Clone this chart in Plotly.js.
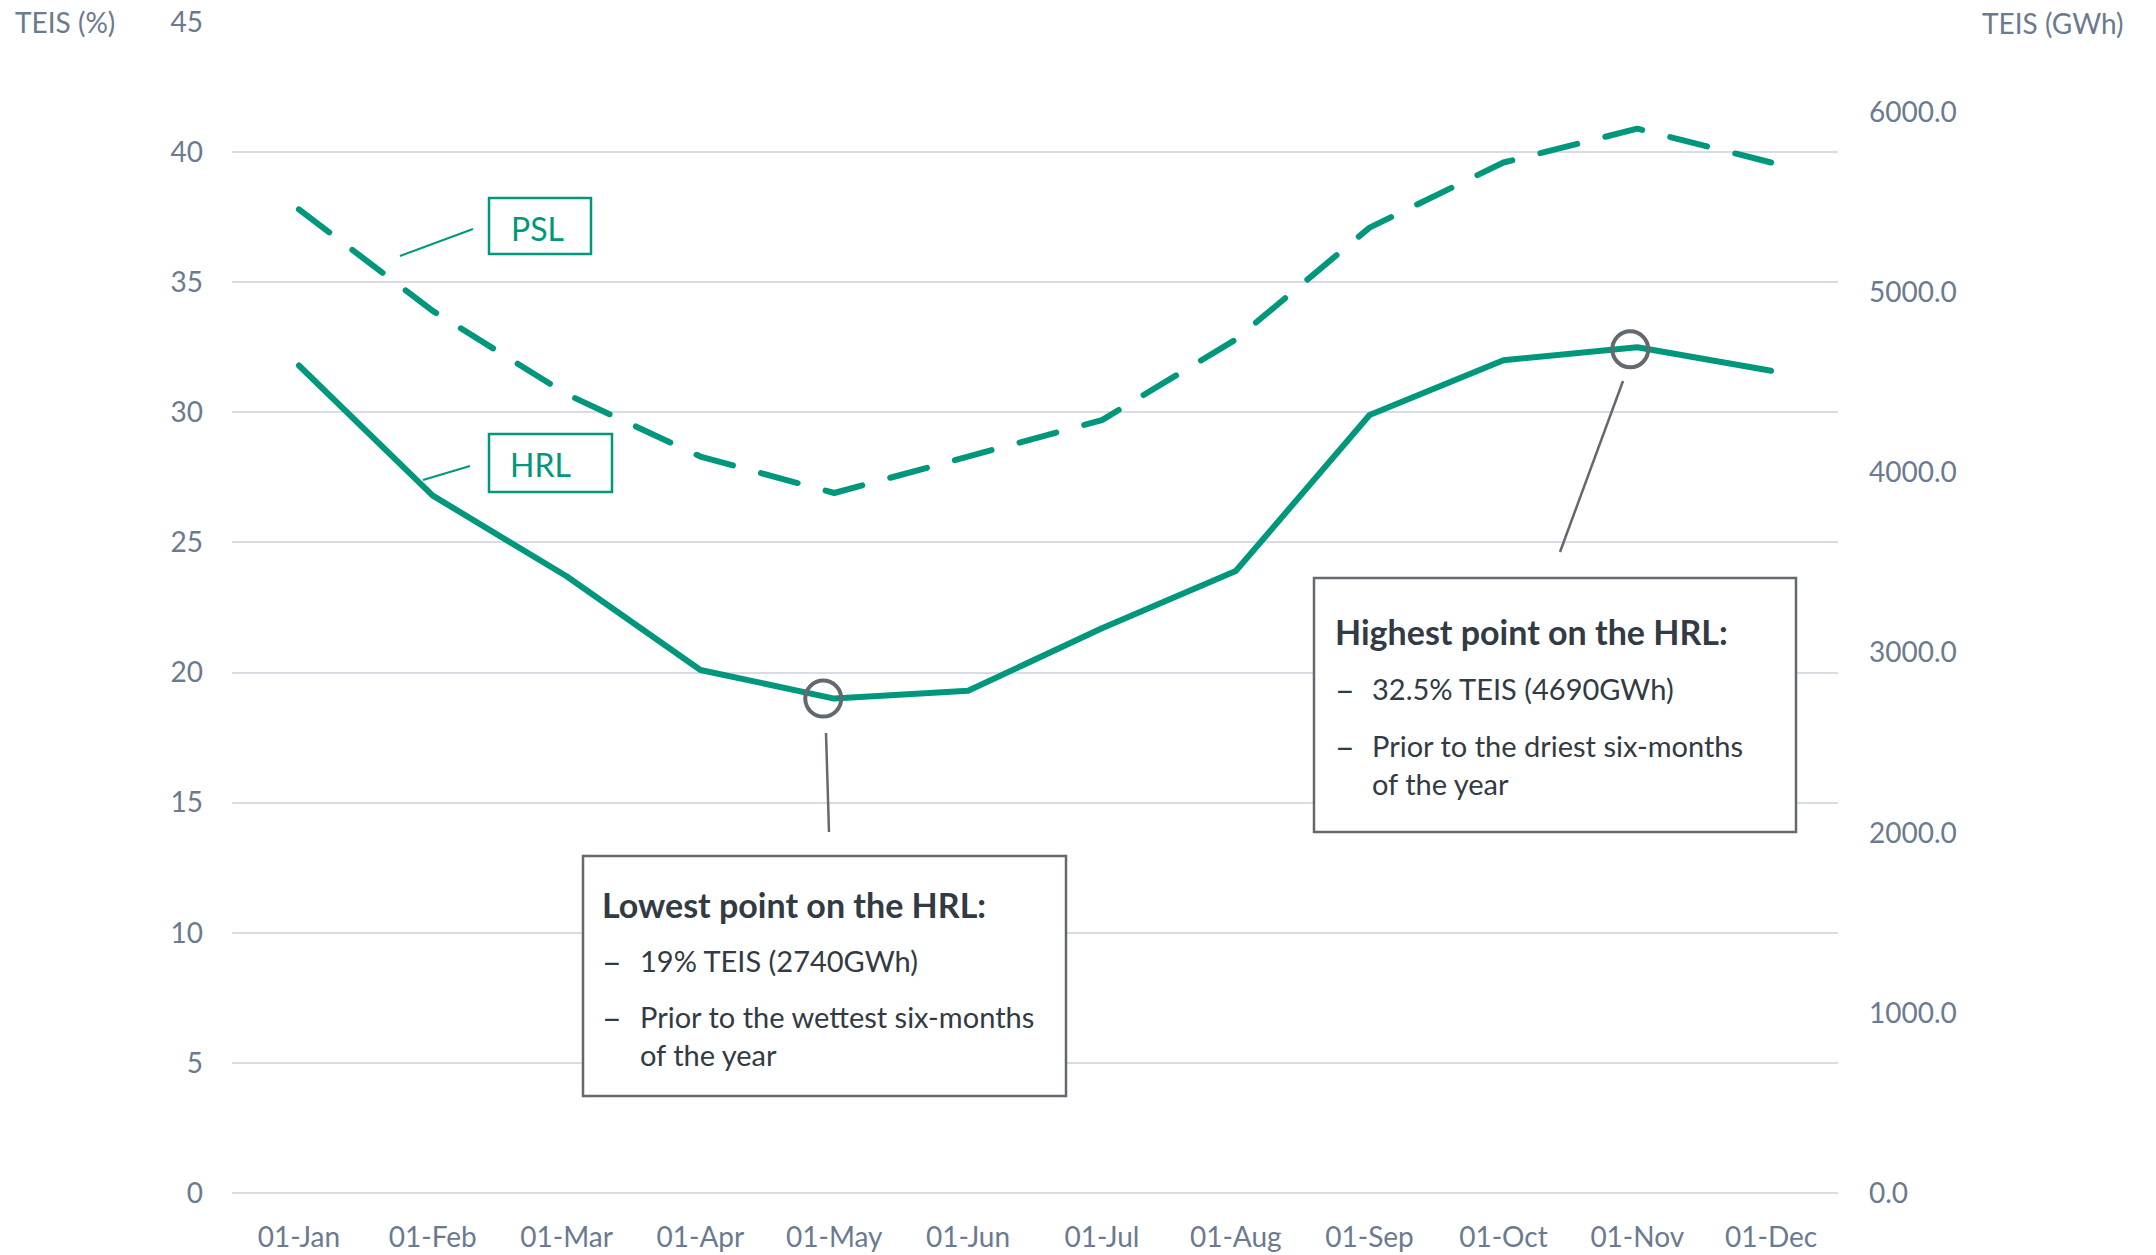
<!DOCTYPE html>
<html>
<head>
<meta charset="utf-8">
<script src="https://cdn.plot.ly/plotly-3.0.1.min.js"></script>
<style>
  html, body { margin: 0; padding: 0; background: #fff; }
  #chart { width: 2156px; height: 1255px; }
  path.js-line { stroke-linecap: round; stroke-linejoin: round; }
</style>
</head>
<body>
<div id="chart"></div>
<script>
// ---- data ----
const months = ['01-Jan','01-Feb','01-Mar','01-Apr','01-May','01-Jun','01-Jul','01-Aug','01-Sep','01-Oct','01-Nov','01-Dec'];
const hrl = [31.8, 26.8, 23.7, 20.1, 19.0, 19.3, 21.7, 23.9, 29.9, 32.0, 32.5, 31.6];
const psl = [37.8, 33.9, 30.7, 28.3, 26.9, 28.3, 29.7, 32.8, 37.1, 39.6, 40.9, 39.6];
const leftTicks = [0, 5, 10, 15, 20, 25, 30, 35, 40, 45];
const rightTicks = [0, 1000, 2000, 3000, 4000, 5000, 6000];
const leftMax = 45, rightMax = 6500;   // both axes share the same vertical scale
const lowIdx = 4;   // 01-May
const highIdx = 10; // 01-Nov
const lowText = ['Lowest point on the HRL:', '19% TEIS (2740GWh)', 'Prior to the wettest six-months', 'of the year'];
const highText = ['Highest point on the HRL:', '32.5% TEIS (4690GWh)', 'Prior to the driest six-months', 'of the year'];

// ---- style / layout helpers ----
const W = 2156, H = 1255;
const L = 232, R = 1838, T = 22, B = 1193;
const px = x => (x - L) / (R - L);
const py = y => (B - y) / (B - T);
const TEAL = '#00977d';
const TICK = '#6b7a8f';
const GRID = '#d9dde3';
const GREY = '#64686f';
const DARK = '#323a44';
const FONT = 'Lato, "Open Sans", sans-serif';

const traces = [
  { x: months, y: hrl, type: 'scatter', mode: 'lines', name: 'HRL',
    line: { color: TEAL, width: 6 }, hoverinfo: 'skip', showlegend: false },
  { x: months, y: psl, type: 'scatter', mode: 'lines', name: 'PSL',
    line: { color: TEAL, width: 6, dash: '38px,29px' }, hoverinfo: 'skip', showlegend: false },
  // HRL expressed in GWh on the right axis (invisible, just carries the secondary axis)
  { x: months, y: hrl.map(v => v * rightMax / leftMax), yaxis: 'y2', type: 'scatter', mode: 'lines',
    line: { color: 'rgba(0,0,0,0)', width: 0 }, hoverinfo: 'skip', showlegend: false }
];

function txt(text, x, y, opts) {
  return Object.assign({
    text: text, xref: 'paper', yref: 'paper', x: px(x), y: py(y),
    xanchor: 'left', yanchor: 'middle', showarrow: false,
    font: { family: FONT, size: 29, color: DARK }
  }, opts || {});
}
function line(x0, y0, x1, y1, color, w) {
  return { type: 'line', xref: 'paper', yref: 'paper', x0: px(x0), y0: py(y0), x1: px(x1), y1: py(y1),
           line: { color: color, width: w }, layer: 'above' };
}
function rect(x0, y0, x1, y1, color, w) {
  return { type: 'rect', xref: 'paper', yref: 'paper', x0: px(x0), y0: py(y0), x1: px(x1), y1: py(y1),
           line: { color: color, width: w }, fillcolor: '#ffffff', layer: 'above' };
}
function ring(idx, dx, dy) {
  return { type: 'circle', xref: 'x', yref: 'y', xsizemode: 'pixel', ysizemode: 'pixel',
           xanchor: idx, yanchor: hrl[idx], x0: dx - 18, x1: dx + 18, y0: dy - 18, y1: dy + 18,
           line: { color: GREY, width: 4 }, fillcolor: 'rgba(0,0,0,0)', layer: 'above' };
}

const shapes = [
  line(400, 256, 473, 229, TEAL, 2),
  line(423, 480, 470, 466, TEAL, 2),
  rect(489, 198, 591, 254, TEAL, 2.5),
  rect(489, 434, 612, 492, TEAL, 2.5),
  ring(lowIdx, -11, 0),
  ring(highIdx, -7, -2),
  line(826, 733, 829, 832, GREY, 2.5),
  line(1623, 381, 1560, 552, GREY, 2.5),
  rect(583, 856, 1066, 1096, GREY, 2.5),
  rect(1314, 578, 1796, 832, GREY, 2.5)
];

const DASH = { family: FONT, size: 34, color: DARK };
const TITLE = { family: FONT, size: 34, color: DARK };
const annotations = [
  txt('TEIS (%)', 13, 22, { font: { family: FONT, size: 28, color: TICK } }),
  txt('TEIS (GWh)', 1980, 23, { font: { family: FONT, size: 28, color: TICK } }),
  txt('PSL', 509, 228, { font: { family: FONT, size: 32, color: TEAL } }),
  txt('HRL', 508, 464, { font: { family: FONT, size: 32, color: TEAL } }),
  // low box
  txt('<b>' + lowText[0] + '</b>', 600, 904, { font: TITLE }),
  txt('–', 600, 960, { font: DASH }),
  txt(lowText[1], 638, 960),
  txt('–', 600, 1016, { font: DASH }),
  txt(lowText[2], 638, 1016),
  txt(lowText[3], 638, 1054),
  // high box
  txt('<b>' + highText[0] + '</b>', 1333, 631, { font: TITLE }),
  txt('–', 1333, 688, { font: DASH }),
  txt(highText[1], 1370, 688),
  txt('–', 1333, 745, { font: DASH }),
  txt(highText[2], 1370, 745),
  txt(highText[3], 1370, 783)
];

const layout = {
  width: W, height: H,
  margin: { l: L, r: W - R, t: T, b: H - B, pad: 0 },
  paper_bgcolor: '#ffffff', plot_bgcolor: '#ffffff',
  showlegend: false,
  font: { family: FONT, size: 28, color: TICK },
  xaxis: {
    type: 'category', range: [-0.5, 11.5], showgrid: false, zeroline: false, showline: false,
    ticks: '', ticklabelstandoff: 25, tickfont: { family: FONT, size: 28, color: TICK }, fixedrange: true
  },
  yaxis: {
    range: [0, leftMax], tickvals: leftTicks, showgrid: true, gridcolor: GRID, gridwidth: 2,
    zeroline: true, zerolinecolor: GRID, zerolinewidth: 2, showline: false, ticks: '',
    ticklabelstandoff: 28, tickfont: { family: FONT, size: 28, color: TICK }, fixedrange: true
  },
  yaxis2: {
    range: [0, rightMax], tickvals: rightTicks, tickformat: '.1f', overlaying: 'y', side: 'right',
    showgrid: false, zeroline: false, showline: false, ticks: '',
    ticklabelstandoff: 30, tickfont: { family: FONT, size: 28, color: TICK }, fixedrange: true
  },
  shapes: shapes,
  annotations: annotations
};

Plotly.newPlot('chart', traces, layout, { displayModeBar: false, staticPlot: true });
</script>
</body>
</html>
